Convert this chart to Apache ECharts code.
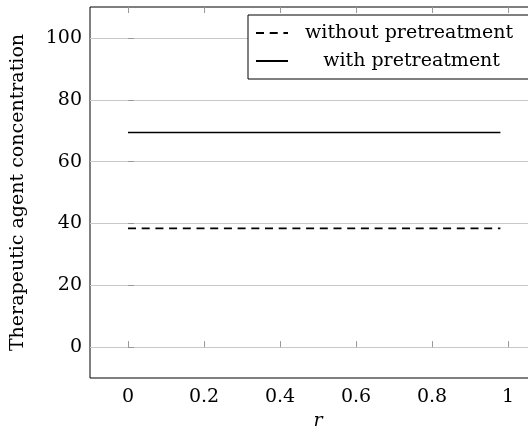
<!DOCTYPE html>
<html lang="en">
<head>
    <meta charset="UTF-8">
    <title>Therapeutic agent concentration</title>
</head>
<body style="margin:0">
<div id="main" style="width: 528px;height:432px;"></div>
<script src="https://cdn.jsdelivr.net/npm/echarts@6/dist/echarts.min.js"></script>
<script>
    // data
    var rValues = [0, 0.98];
    var withoutPre = [38.4, 38.4];
    var withPre = [69.4, 69.4];
    var xTicks = [0, 0.2, 0.4, 0.6, 0.8, 1];
    var yTicks = [0, 20, 40, 60, 80, 100];

    var font = 'DejaVu Serif';
    var fs = 19;

    function pairs(xs, ys) {
        var out = [];
        for (var i = 0; i < xs.length; i++) out.push([xs[i], ys[i]]);
        return out;
    }

    var tickStyle = {show: true, inside: true, length: 6, lineStyle: {color: '#999', width: 1}};

    var myChart = echarts.init(document.getElementById('main'));
    var option = {
        animation: false,
        grid: {
            left: 90, right: -18, top: 7, bottom: 54,
            outerBoundsMode: 'none',
            containLabel: false,
            show: true, borderColor: '#000', borderWidth: 1
        },
        legend: {
            left: 248, top: 15,
            orient: 'vertical',
            align: 'left',
            backgroundColor: '#fff',
            borderColor: '#000', borderWidth: 1,
            padding: [7, 60, 7, 7],
            itemGap: 6,
            itemWidth: 32, itemHeight: 14,
            itemStyle: {opacity: 0},
            textStyle: {fontFamily: font, fontSize: fs, color: '#000', lineHeight: 22},
            data: ['without pretreatment', 'with pretreatment'],
            formatter: function (name) {
                return name === 'with pretreatment' ? '     ' + name : '  ' + name;
            }
        },
        xAxis: [{
            type: 'value', min: -0.1, max: 1.1,
            name: 'r', nameLocation: 'middle', nameGap: 32,
            nameTextStyle: {fontFamily: font, fontSize: fs, fontStyle: 'italic', color: '#000'},
            axisLine: {show: false},
            axisTick: Object.assign({customValues: xTicks}, tickStyle),
            axisLabel: {customValues: xTicks, fontFamily: font, fontSize: fs, color: '#000', margin: 10},
            splitLine: {show: false}
        }, {
            type: 'value', min: -0.1, max: 1.1, position: 'top',
            axisLine: {show: false},
            axisTick: Object.assign({customValues: xTicks}, tickStyle),
            axisLabel: {show: false},
            splitLine: {show: false}
        }],
        yAxis: {
            type: 'value', min: -10, max: 110,
            name: 'Therapeutic agent concentration', nameLocation: 'middle', nameGap: 62,
            nameTextStyle: {fontFamily: font, fontSize: fs, color: '#000'},
            axisLine: {show: false},
            axisTick: Object.assign({customValues: yTicks}, tickStyle),
            axisLabel: {customValues: yTicks, fontFamily: font, fontSize: fs, color: '#000', margin: 8},
            splitLine: {show: true, lineStyle: {color: '#c8c8c8', width: 1}}
        },
        series: [
            {
                name: 'without pretreatment',
                type: 'line',
                symbol: 'none',
                data: pairs(rValues, withoutPre),
                lineStyle: {color: '#000', width: 1.6, type: [8, 5.7]},
                itemStyle: {color: '#000'}
            },
            {
                name: 'with pretreatment',
                type: 'line',
                symbol: 'none',
                data: pairs(rValues, withPre),
                lineStyle: {color: '#000', width: 1.6},
                itemStyle: {color: '#000'}
            }
        ]
    };
    myChart.setOption(option);
</script>
</body>
</html>
